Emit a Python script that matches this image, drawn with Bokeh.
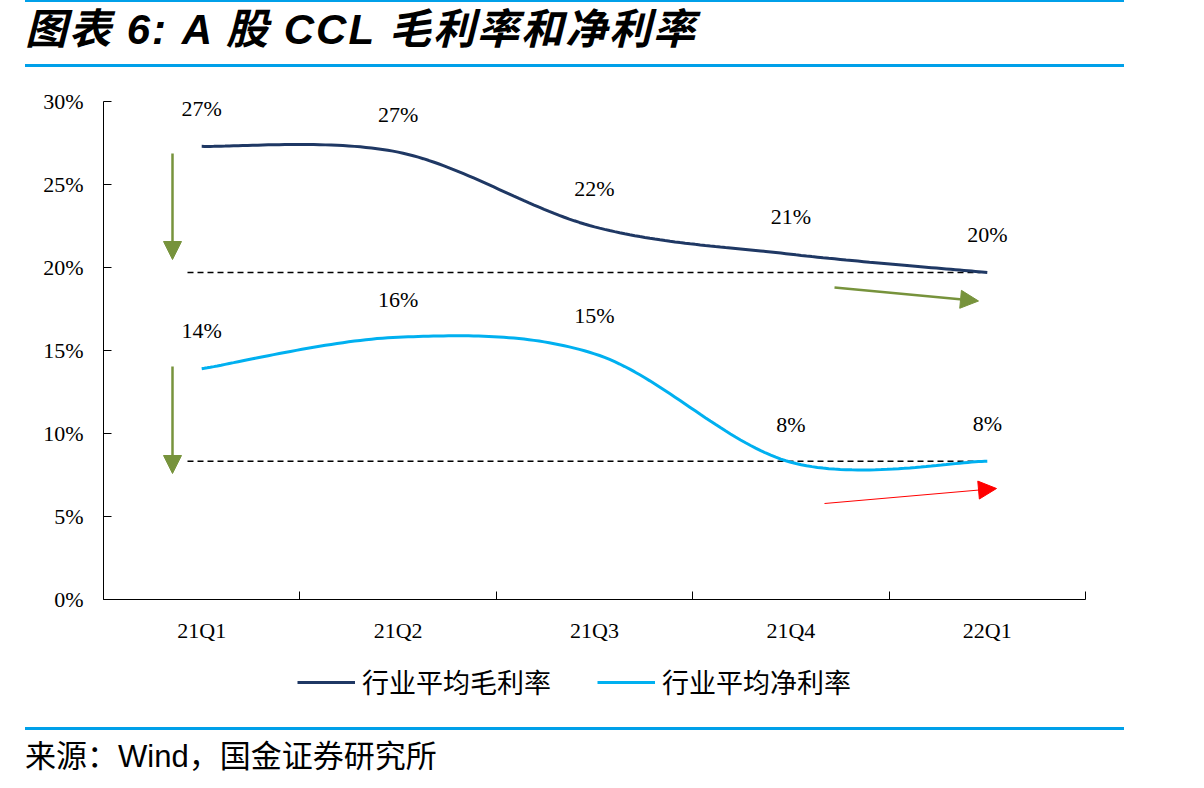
import numpy as np
from bokeh.plotting import figure
from bokeh.layouts import column
from bokeh.models import (Range1d, FixedTicker, NumeralTickFormatter, Div,
                          Arrow, NormalHead, Legend, LegendItem, ColumnDataSource)
from bokeh.core.properties import value
from bokeh.embed import file_html
from bokeh.resources import INLINE

# ---------------- data ----------------
quarters = ["21Q1", "21Q2", "21Q3", "21Q4", "22Q1"]
gross_margin = [0.273, 0.2695, 0.2245, 0.208, 0.197]
net_margin = [0.139, 0.158, 0.148, 0.0827, 0.0833]
y_ticks = [0.0, 0.05, 0.10, 0.15, 0.20, 0.25, 0.30]
series_names = ["行业平均毛利率", "行业平均净利率"]
title_text = "图表 6: A 股 CCL 毛利率和净利率"
source_text = "来源：Wind，国金证券研究所"

# ---------------- style ----------------
NAVY = "#1F3864"
CYAN = "#00B0F0"
GREEN = "#77933C"
RED = "#FF0000"
RULE = "#00A0E9"
SERIF = "Liberation Serif"
CJK = "Noto Sans CJK SC"

W = 1204
HEAD_H = 81            # page rows 0..81
MAIN_BOTTOM = 660      # main figure covers 81..660
LEG_BOTTOM = 727       # legend strip covers 660..727
FOOT_H = 788 - LEG_BOTTOM
FL, FR, FB = 103, 1085, 599          # plot frame edges (page px)
AX_TOP = 101                          # page row of the 30% tick
XMAX, YAX = 5.0, 0.30
PX_PER_Y = (FB - AX_TOP) / YAX
YMAX = YAX + (AX_TOP - HEAD_H) / PX_PER_Y  # a little headroom for labels


def cx(px):
    return (px - FL) / (FR - FL) * XMAX


def cy(py):
    return (FB - py) / PX_PER_Y


xs = [i + 0.5 for i in range(len(quarters))]


def smooth(xv, yv, n=40):
    P = np.column_stack([xv, yv]).astype(float)
    ext = np.vstack([P[0], P, P[-1]])
    out = []
    t = np.linspace(0, 1, n)[:, None]
    for i in range(len(P) - 1):
        p0, p3 = ext[i + 1], ext[i + 2]
        c1 = p0 + (ext[i + 2] - ext[i]) / 6.0
        c2 = p3 - (ext[i + 3] - ext[i + 1]) / 6.0
        seg = (1 - t) ** 3 * p0 + 3 * (1 - t) ** 2 * t * c1 + 3 * (1 - t) * t ** 2 * c2 + t ** 3 * p3
        out.append(seg if i == 0 else seg[1:])
    return np.vstack(out)


# ---------------- header ----------------
head_html = f"""
<div style="position:relative;width:{W}px;height:{HEAD_H}px;background:white;overflow:hidden;">
  <div style="position:absolute;left:25px;top:0px;width:1099px;height:2px;background:{RULE};"></div>
  <div style="position:absolute;left:25px;top:4px;font-family:'Liberation Sans','{CJK}',sans-serif;
       font-weight:bold;font-style:italic;font-size:42px;line-height:52px;letter-spacing:2px;
       white-space:nowrap;color:black;">{title_text}</div>
  <div style="position:absolute;left:25px;top:64px;width:1099px;height:3px;background:{RULE};"></div>
</div>"""
head = Div(text=head_html, width=W, height=HEAD_H, margin=0)

# ---------------- main chart ----------------
p = figure(width=W, height=MAIN_BOTTOM - HEAD_H, output_backend="svg", toolbar_location=None,
           x_range=Range1d(0, XMAX), y_range=Range1d(0, YMAX),
           min_border_left=FL, min_border_right=W - FR, min_border_top=0,
           min_border_bottom=MAIN_BOTTOM - FB)
p.outline_line_color = None
p.grid.visible = False
p.background_fill_color = "white"
p.border_fill_color = "white"

p.yaxis.ticker = FixedTicker(ticks=y_ticks)
p.yaxis.formatter = NumeralTickFormatter(format="0%")
p.yaxis.bounds = (0, YAX)
p.yaxis.major_tick_in = 8
p.yaxis.major_tick_out = 0
p.yaxis.minor_tick_line_color = None
p.yaxis.major_label_standoff = 20
p.yaxis.axis_line_color = "black"
p.yaxis.major_tick_line_color = "black"

p.xaxis.ticker = FixedTicker(ticks=xs, minor_ticks=[0, 1, 2, 3, 4, 5])
p.xaxis.major_label_overrides = {x: q for x, q in zip(xs, quarters)}
p.xaxis.major_tick_in = 0
p.xaxis.major_tick_out = 0
p.xaxis.minor_tick_in = 8
p.xaxis.minor_tick_out = 0
p.xaxis.minor_tick_line_color = "black"
p.xaxis.major_label_standoff = 18
p.xaxis.axis_line_color = "black"

for ax in (p.xaxis, p.yaxis):
    ax.major_label_text_font = SERIF
    ax.major_label_text_font_size = "22px"
    ax.major_label_text_color = "black"

# dashed reference lines at latest values
ref_x = [cx(187), cx(980)]
p.line(ref_x, [gross_margin[-1]] * 2, line_color="black", line_width=1.5, line_dash="6 4")
p.line(ref_x, [net_margin[-1]] * 2, line_color="black", line_width=1.5, line_dash="6 4")

# smooth lines
g = smooth(xs, gross_margin)
n = smooth(xs, net_margin)
p.line(g[:, 0], g[:, 1], line_color=NAVY, line_width=3)
p.line(n[:, 0], n[:, 1], line_color=CYAN, line_width=3)


def fmt(v):
    return f"{round(v * 100):.0f}%"


src = ColumnDataSource(dict(x=xs + xs, y=gross_margin + net_margin,
                            t=[fmt(v) for v in gross_margin] + [fmt(v) for v in net_margin]))
p.text(x="x", y="y", text="t", source=src, y_offset=-38, text_align="center", text_baseline="middle",
       text_font=value(SERIF), text_font_size="22px", text_color="black")

for (x0, y0, x1, y1, col, lw) in [
    (cx(172), cy(153), cx(172), cy(259), GREEN, 2.5),
    (cx(172), cy(366), cx(172), cy(473), GREEN, 2.5),
    (cx(834), cy(287), cx(978), cy(300.5), GREEN, 2.5),
    (cx(824), cy(503), cx(996), cy(488), RED, 1),
]:
    p.add_layout(Arrow(end=NormalHead(size=18, fill_color=col, line_color=col, line_width=1),
                       x_start=x0, y_start=y0, x_end=x1, y_end=y1, line_color=col, line_width=lw))

# ---------------- legend strip ----------------
LEG_H = LEG_BOTTOM - MAIN_BOTTOM
lf = figure(width=W, height=LEG_H, output_backend="svg", toolbar_location=None,
            x_range=Range1d(FL, FR), y_range=Range1d(LEG_H, 0),
            x_axis_location=None, y_axis_location=None,
            min_border_left=FL, min_border_right=W - FR, min_border_top=0, min_border_bottom=0)
lf.outline_line_color = None
lf.grid.visible = False
lf.background_fill_color = "white"
lf.border_fill_color = "white"
# off-range stand-ins carrying each series' line style for the legend keys
lg_g = lf.line([-100, -90], [0, 0], line_color=NAVY, line_width=3)
lg_n = lf.line([-100, -90], [0, 0], line_color=CYAN, line_width=3)
leg_bottom_local = (686 + 15) - MAIN_BOTTOM
legend = Legend(items=[LegendItem(label=series_names[0], renderers=[lg_g]),
                       LegendItem(label=series_names[1], renderers=[lg_n])],
                orientation="horizontal", location=(297 - FL, LEG_H - leg_bottom_local),
                glyph_width=58, glyph_height=30, label_height=30, label_standoff=7, spacing=46,
                padding=0, margin=0, border_line_alpha=0, background_fill_alpha=0,
                label_text_font=CJK, label_text_font_size="27px", label_text_color="black")
lf.add_layout(legend, "center")

# ---------------- footer ----------------
foot_html = f"""
<div style="position:relative;width:{W}px;height:{FOOT_H}px;background:white;overflow:hidden;">
  <div style="position:absolute;left:25px;top:0px;width:1099px;height:3px;background:{RULE};"></div>
  <div style="position:absolute;left:25px;top:11px;font-family:'Liberation Sans','{CJK}',sans-serif;
       font-size:31px;line-height:38px;white-space:nowrap;color:black;">{source_text}</div>
</div>"""
foot = Div(text=foot_html, width=W, height=FOOT_H, margin=0)

layout = column(head, p, lf, foot, spacing=0)
open("out.html", "w").write(file_html(layout, INLINE))
